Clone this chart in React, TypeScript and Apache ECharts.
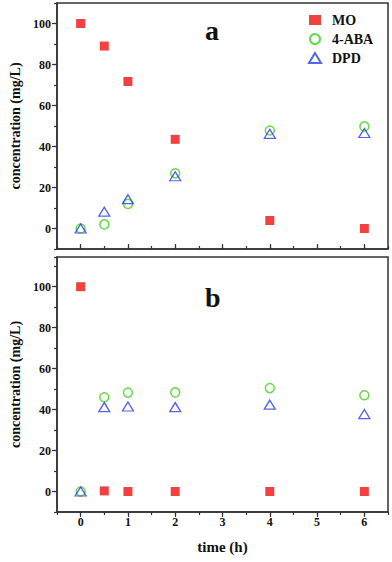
import React, { useEffect, useRef } from "react";
import * as echarts from "echarts";

const times = [0, 0.5, 1, 2, 4, 6];
const moA = [100, 89, 71.7, 43.5, 3.9, 0];
const abaA = [0, 2, 12, 26.9, 47.8, 49.8];
const dpdA = [0, 8.2, 14.3, 25.5, 46.2, 46.6];
const moB = [100, 0.3, 0, 0, 0, 0];
const abaB = [0, 46, 48.3, 48.4, 50.5, 47];
const dpdB = [0, 41.2, 41.5, 41.2, 42.4, 37.8];
const yLabels = [0, 20, 40, 60, 80, 100];
const xLabels = [0, 1, 2, 3, 4, 5, 6];

const FONT = "Liberation Serif";
const AX = "#333";

export default function App() {
  const ref = useRef<HTMLDivElement>(null);
  useEffect(() => {
    const chart = echarts.init(ref.current!, null, { renderer: "svg" });
    const pair = (a: number[]) => times.map((t, i) => [t, a[i]]);
    const xMajor = (gi: number, inside: boolean, showLabels: boolean) => ({
      type: "value",
      gridIndex: gi,
      position: "bottom",
      min: -0.5,
      max: 6.5,
      axisLine: { show: true, onZero: false, lineStyle: { color: AX, width: 1.5 } },
      axisTick: { show: true, inside, length: 5, customValues: xLabels, lineStyle: { color: AX, width: 1.2 } },
      axisLabel: {
        show: showLabels,
        customValues: xLabels,
        margin: 4,
        fontFamily: FONT,
        fontWeight: "bold",
        fontSize: 12,
        color: "#111",
      },
      splitLine: { show: false },
      name: showLabels ? "time (h)" : "",
      nameLocation: "middle",
      nameGap: 27,
      nameTextStyle: { fontFamily: FONT, fontWeight: "bold", fontSize: 15, color: "#111" },
    });
    const xMinor = (gi: number, inside: boolean) => ({
      type: "value",
      gridIndex: gi,
      position: "bottom",
      min: -0.5,
      max: 6.5,
      interval: 0.5,
      axisLine: { show: false, onZero: false },
      axisTick: { show: true, inside, length: 3, lineStyle: { color: AX, width: 1.2 } },
      axisLabel: { show: false },
      splitLine: { show: false },
    });
    const yMajor = (gi: number, max: number) => ({
      type: "value",
      gridIndex: gi,
      position: "left",
      min: -10,
      max,
      axisLine: { show: true, onZero: false, lineStyle: { color: AX, width: 1.5 } },
      axisTick: { show: true, length: 5, customValues: yLabels, lineStyle: { color: AX, width: 1.2 } },
      axisLabel: {
        customValues: yLabels,
        margin: 6,
        fontFamily: FONT,
        fontWeight: "bold",
        fontSize: 12,
        color: "#111",
      },
      splitLine: { show: false },
      name: "concentration (mg/L)",
      nameLocation: "middle",
      nameGap: 35,
      nameTextStyle: { fontFamily: FONT, fontWeight: "bold", fontSize: 14, color: "#111" },
    });
    const yMinor = (gi: number, max: number) => ({
      type: "value",
      gridIndex: gi,
      position: "left",
      min: -10,
      max,
      interval: 10,
      axisLine: { show: false, onZero: false },
      axisTick: { show: true, length: 3, lineStyle: { color: AX, width: 1.2 } },
      axisLabel: { show: false },
      splitLine: { show: false },
    });
    const sq = (name: string, data: number[], xi: number, yi: number) => ({
      name,
      type: "scatter",
      xAxisIndex: xi,
      yAxisIndex: yi,
      symbol: "rect",
      symbolSize: 9,
      itemStyle: { color: "#EE1111" },
      data: pair(data),
      z: 3,
    });
    const ci = (name: string, data: number[], xi: number, yi: number) => ({
      name,
      type: "scatter",
      xAxisIndex: xi,
      yAxisIndex: yi,
      symbol: "circle",
      symbolSize: 9,
      itemStyle: { color: "rgba(255,255,255,0)", borderColor: "#3ED21A", borderWidth: 1.5 },
      data: pair(data),
      z: 4,
    });
    const tr = (name: string, data: number[], xi: number, yi: number) => ({
      name,
      type: "scatter",
      xAxisIndex: xi,
      yAxisIndex: yi,
      symbol: "triangle",
      symbolSize: [11, 9],
      itemStyle: { color: "rgba(255,255,255,0)", borderColor: "#2A3CE8", borderWidth: 1.3 },
      data: pair(data),
      z: 5,
    });
    chart.setOption({
      animation: false,
      backgroundColor: "#fff",
      grid: [
        { left: 57, top: 3, width: 331, height: 246, show: true, borderColor: AX, borderWidth: 1.5, backgroundColor: "transparent" },
        { left: 57, top: 257, width: 331, height: 255, show: true, borderColor: AX, borderWidth: 1.5, backgroundColor: "transparent" },
      ],
      xAxis: [xMajor(0, true, false), xMinor(0, true), xMajor(1, false, true), xMinor(1, false)],
      yAxis: [yMajor(0, 110), yMinor(0, 110), yMajor(1, 114.5), yMinor(1, 114.5)],
      legend: {
        data: ["MO", "4-ABA", "DPD"],
        orient: "vertical",
        left: 303,
        top: 8,
        itemWidth: 12,
        itemHeight: 10,
        itemGap: 5,
        textStyle: { fontFamily: FONT, fontWeight: "bold", fontSize: 14, color: "#111", padding: [0, 0, 0, 6] },
      },
      graphic: [
        { type: "text", left: 205, top: 16, style: { text: "a", font: `bold 28px "${FONT}"`, fill: "#111" } },
        { type: "text", left: 205, top: 283, style: { text: "b", font: `bold 28px "${FONT}"`, fill: "#111" } },
      ],
      series: [
        sq("MO", moA, 0, 0),
        ci("4-ABA", abaA, 0, 0),
        tr("DPD", dpdA, 0, 0),
        sq("MO", moB, 2, 2),
        ci("4-ABA", abaB, 2, 2),
        tr("DPD", dpdB, 2, 2),
      ],
    });
    return () => chart.dispose();
  }, []);
  return <div ref={ref} style={{ width: 392, height: 562, position: "absolute", left: 0, top: 0 }} />;
}
